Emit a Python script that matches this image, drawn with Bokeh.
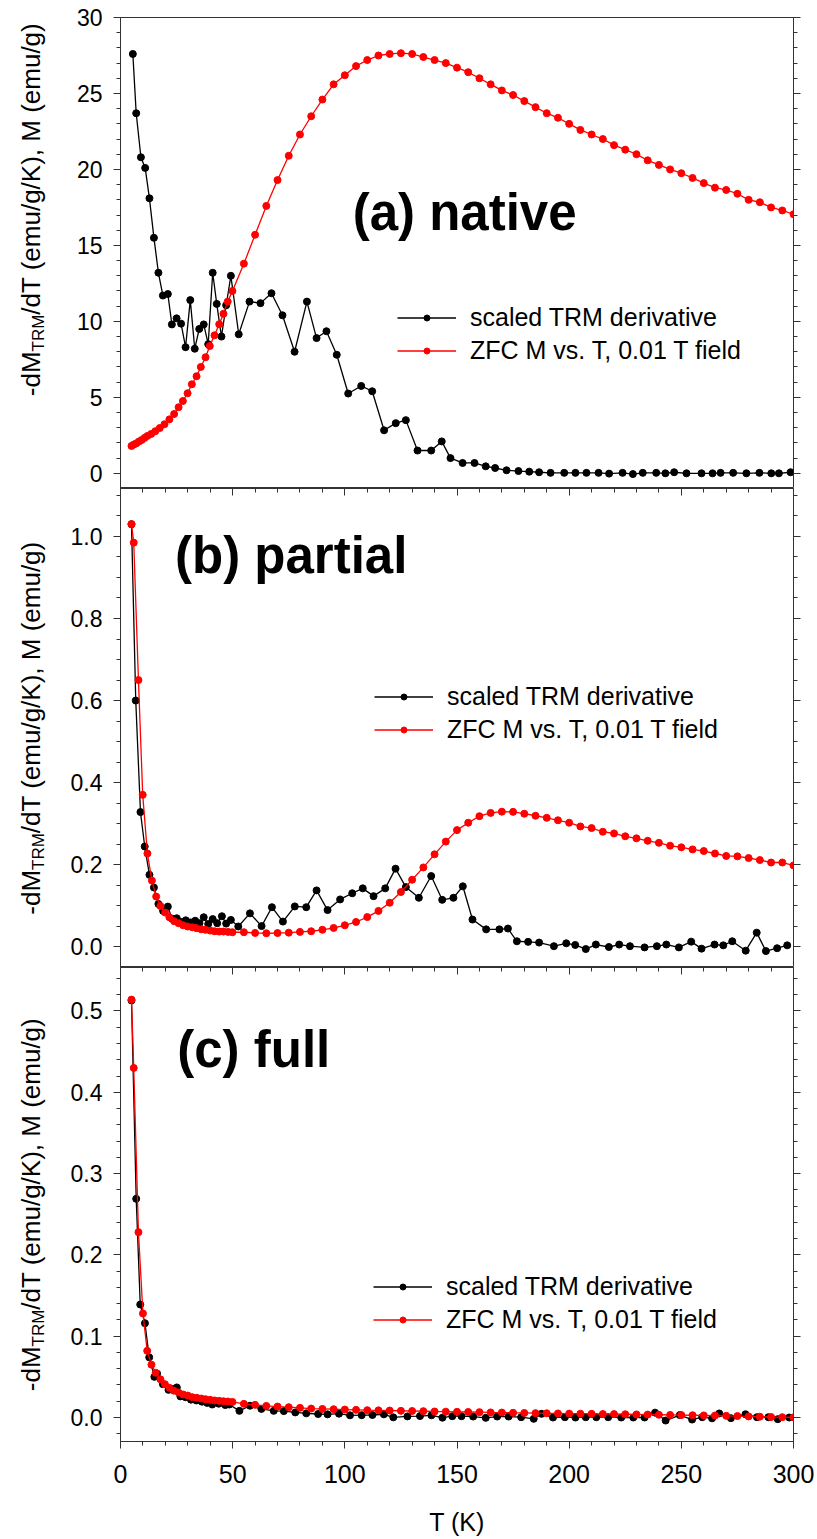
import math
from bokeh.plotting import figure
from bokeh.models import (Range1d, LinearAxis, SingleIntervalTicker, PrintfTickFormatter,
                          Label, Legend, LegendItem, CustomLabelingPolicy)
from bokeh.layouts import column, row
from bokeh.core.properties import value
from bokeh.embed import file_html
from bokeh.resources import INLINE

# ---------------- data ----------------
# panel (a) native
Ta_trm = [5.5, 7.0, 9.1, 11.0, 12.9, 14.9, 16.9, 18.9, 21.1, 22.9, 25.0, 27.0, 29.0, 31.1, 33.1,
          35.1, 37.1, 39.1, 41.1, 42.9, 45.0, 47.1, 49.2, 52.7, 57.5, 62.4, 67.3, 72.2, 77.6, 83.1,
          87.4, 91.8, 96.4, 101.5, 107.3, 112.2, 117.5, 122.7, 127.2, 132.4, 138.5, 143.2, 147.1,
          152.5, 157.8, 162.8, 167.0, 172.1, 177.4, 182.2, 186.6, 191.7, 197.8, 202.8, 207.7, 213.1,
          217.8, 223.8, 228.4, 232.8, 238.8, 242.9, 246.8, 252.3, 259.0, 263.9, 267.5, 273.1, 279.0,
          284.8, 290.1, 293.5, 298.7]
Ya_trm = [27.6, 23.7, 20.8, 20.1, 18.1, 15.5, 13.2, 11.7, 11.8, 9.8, 10.2, 9.85, 8.3, 11.4, 8.2,
          9.5, 9.8, 8.5, 13.2, 11.15, 9.0, 11.06, 13.0, 9.15, 11.3, 11.2, 11.85, 10.4, 8.0, 11.3,
          8.9, 9.35, 7.8, 5.25, 5.75, 5.4, 2.83, 3.3, 3.5, 1.5, 1.5, 2.1, 1.0,
          0.68, 0.68, 0.46, 0.35, 0.2, 0.15, 0.11, 0.07, 0.03, 0.03, 0.03, 0.03, 0.03,
          -0.02, 0.03, -0.05, 0.03, 0.03, 0.0, 0.07, 0.0, 0.0, 0.0, 0.03, 0.03, 0.0,
          0.03, 0.0, 0.0, 0.07]
Ta_zfc = [4.9, 5.9, 7.0, 8.2, 9.4, 10.7, 12.0, 13.7, 15.5, 17.5, 19.6, 21.8, 23.9, 25.9, 27.8, 29.9,
          31.8, 33.9, 35.8, 37.9, 39.8, 41.9, 44.0, 45.9, 47.8, 49.9,
          55, 60, 65, 70, 75, 80, 85, 90, 95, 100, 105, 110, 115, 120, 125, 130, 135, 140, 145, 150,
          155, 160, 165, 170, 175, 180, 185, 190, 195, 200, 205, 210, 215, 220, 225, 230, 235, 240,
          245, 250, 255, 260, 265, 270, 275, 280, 285, 290, 295, 300]
Ya_zfc = [1.80, 1.89, 1.97, 2.09, 2.19, 2.33, 2.46, 2.59, 2.77, 2.98, 3.23, 3.55, 3.9, 4.35, 4.76, 5.27,
          5.86, 6.39, 7.0, 7.64, 8.38, 9.08, 9.81, 10.5, 11.3, 12.0,
          13.8, 15.7, 17.6, 19.3, 20.9, 22.3, 23.5, 24.6, 25.6, 26.2, 26.8, 27.2, 27.5, 27.6, 27.65,
          27.6, 27.4, 27.2, 27.0, 26.7, 26.4, 26.0, 25.6, 25.2, 24.9, 24.5, 24.1, 23.7, 23.4, 23.0,
          22.6, 22.3, 22.0, 21.6, 21.3, 21.0, 20.6, 20.3, 20.0, 19.75, 19.44, 19.1, 18.8, 18.65,
          18.4, 18.0, 17.84, 17.5, 17.3, 17.05]

# panel (b) partial
Tb_trm = [4.9, 6.8, 8.9, 10.8, 12.9, 14.9, 16.9, 19.0, 21.1, 23.0, 25.1, 27.2, 29.1, 31.2, 33.3,
          35.2, 37.1, 39.1, 41.1, 43.1, 45.2, 47.1, 49.2, 52.5, 57.7, 62.9, 67.5, 72.4, 77.7, 82.8,
          87.4, 92.3, 97.9, 103.3, 108.0, 112.8, 118.0, 122.6, 127.2, 133.0, 138.5, 143.4, 148.4,
          152.6, 156.9, 163.0, 168.9, 172.7, 176.7, 181.7, 186.6, 193.2, 198.7, 202.7, 207.4, 211.9,
          217.7, 222.3, 227.1, 233.6, 239.1, 243.3, 248.9, 254.4, 259.0, 264.8, 268.7, 272.7, 278.7,
          283.6, 287.7, 292.7, 297.2]
Yb_trm = [1.03, 0.60, 0.328, 0.244, 0.175, 0.144, 0.104, 0.087, 0.0975, 0.068, 0.069, 0.060, 0.064,
          0.059, 0.063, 0.057, 0.0715, 0.055, 0.067, 0.057, 0.074, 0.056, 0.065, 0.049, 0.081, 0.050,
          0.096, 0.061, 0.098, 0.096, 0.137, 0.089, 0.115, 0.130, 0.142, 0.123, 0.142, 0.19, 0.145,
          0.119, 0.172, 0.114, 0.119, 0.147, 0.066, 0.042, 0.042, 0.044, 0.013, 0.0115, 0.0098, 0.001,
          0.008, 0.004, -0.006, 0.005, -0.001, 0.005, 0.001, -0.002, 0.001, 0.005, -0.002, 0.012,
          -0.005, 0.005, 0.003, 0.013, -0.010, 0.034, -0.011, -0.004, 0.003]
Tb_zfc = [4.9, 5.9, 8.0, 9.9, 12.0, 14.0, 15.9, 17.8, 19.9, 21.8, 23.9, 25.9, 27.9, 29.9, 32.0, 33.9,
          36.0, 37.9, 40.0, 41.9, 44.0, 45.9, 48.0, 49.9,
          55, 60, 65, 70, 75, 80, 85, 90, 95, 100, 105, 110, 115, 120, 125, 130, 135, 140, 145, 150,
          155, 160, 165, 170, 175, 180, 185, 190, 195, 200, 205, 210, 215, 220, 225, 230, 235, 240,
          245, 250, 255, 260, 265, 270, 275, 280, 285, 290, 295, 300]
Yb_zfc = [1.030, 0.985, 0.650, 0.370, 0.227, 0.161, 0.122, 0.099, 0.083, 0.0715, 0.062, 0.057, 0.052,
          0.049, 0.047, 0.045, 0.042, 0.041, 0.039, 0.0374, 0.0366, 0.0366, 0.0358, 0.035,
          0.035, 0.0333, 0.0325, 0.033, 0.034, 0.0358, 0.0374, 0.041, 0.0455, 0.052, 0.060, 0.072,
          0.087, 0.107, 0.133, 0.163, 0.193, 0.225, 0.256, 0.284, 0.302, 0.318, 0.326, 0.329, 0.3285,
          0.324, 0.319, 0.314, 0.308, 0.302, 0.293, 0.289, 0.280, 0.276, 0.269, 0.264, 0.258, 0.253,
          0.246, 0.242, 0.237, 0.233, 0.227, 0.221, 0.220, 0.216, 0.211, 0.205, 0.205, 0.198]

# panel (c) full
Tc_trm = [4.9, 7.0, 8.8, 10.9, 12.8, 15.1, 16.3, 18.9, 21.4, 23.3, 25.1, 26.7, 29.0, 31.4, 33.8,
          36.3, 38.6, 40.9, 43.8, 46.7, 48.5, 53.0, 57.7, 62.8, 68.3, 72.8, 77.9, 82.8, 88.1, 92.3,
          97.4, 102.3, 107.5, 112.3, 117.4, 121.6, 127.9, 133.5, 138.6, 143.5, 147.9, 152.0, 157.2,
          162.8, 167.9, 173.0, 178.6, 184.2, 187.7, 192.8, 198.1, 202.8, 207.4, 212.1, 217.4, 223.2,
          228.6, 233.6, 238.3, 243.0, 249.3, 254.8, 259.3, 263.7, 266.9, 272.1, 278.6, 283.7, 288.8,
          293.0, 298.1]
Yc_trm = [0.513, 0.269, 0.139, 0.116, 0.074, 0.050, 0.054, 0.041, 0.034, 0.035, 0.037, 0.026, 0.025,
          0.022, 0.021, 0.0195, 0.018, 0.016, 0.017, 0.0153, 0.016, 0.0082, 0.0145, 0.0106, 0.0082,
          0.0079, 0.0063, 0.0051, 0.0043, 0.0039, 0.0047, 0.0027, 0.0029, 0.0031, 0.0039, 0.0002,
          0.0014, 0.0018, 0.0027, -0.0002, 0.0016, 0.0016, 0.0012, -0.0004, 0.0012, 0.0012, 0.0004,
          -0.0016, 0.0045, 0.0, 0.0004, 0.0, 0.0004, 0.0004, 0.0004, 0.0, 0.0, 0.0, 0.006, -0.0037,
          0.003, -0.0025, 0.0004, -0.001, 0.005, -0.0008, 0.004, 0.0004, 0.0004, -0.002, 0.0]
Tc_zfc = [4.9, 5.9, 8.0, 10.0, 11.9, 13.8, 15.7, 17.8, 19.8, 21.8, 23.8, 25.9, 28.0, 30.0, 32.0, 34.0,
          36.0, 37.9, 40.0, 41.9, 44.0, 45.9, 47.8, 49.9,
          55, 60, 65, 70, 75, 80, 85, 90, 95, 100, 105, 110, 115, 120, 125, 130, 135, 140, 145, 150,
          155, 160, 165, 170, 175, 180, 185, 190, 195, 200, 205, 210, 215, 220, 225, 230, 235, 240,
          245, 250, 255, 260, 265, 270, 275, 280, 285, 290, 295, 300]
Yc_zfc = [0.514, 0.430, 0.228, 0.128, 0.082, 0.065, 0.055, 0.047, 0.041, 0.0365, 0.033, 0.0307,
          0.0283, 0.027, 0.025, 0.0242, 0.0233, 0.0225, 0.0217, 0.021, 0.0205, 0.020, 0.0197, 0.0192,
          0.0168, 0.0156, 0.0143, 0.0135, 0.0127, 0.0119, 0.011, 0.0106, 0.0102, 0.0098, 0.0094,
          0.009, 0.0088, 0.0086, 0.0082, 0.008, 0.0078, 0.0074, 0.0072, 0.007,
          0.0068, 0.0066, 0.0063, 0.0061, 0.0058, 0.0056, 0.0054, 0.0052, 0.005, 0.0048, 0.0047,
          0.0045, 0.0043, 0.0042, 0.004, 0.0038, 0.0036, 0.0034, 0.0032, 0.003, 0.0028, 0.0026,
          0.0024, 0.0021, 0.0018, 0.0014, 0.001, 0.0006, 0.0004, 0.0002]

x_ticks_major = 50
legend_labels = ["scaled TRM derivative", "ZFC M vs. T, 0.01 T field"]
panel_titles = ["(a) native", "(b) partial", "(c) full"]
x_label = "T (K)"
ylab_parts = ["-dM", "TRM", "/dT (emu/g/K), M (emu/g)"]

# ---------------- styling / geometry ----------------
FONT = "Liberation Sans"
FRAME_W = 673
LAB_W = 60                # strip holding the rotated y labels
LEFT, RIGHT = 120, 24     # frame left edge on the page, right border
TOP = 17
FRAME_H = [471, 479, 474]
BOTTOM = 98
PAGE_H = TOP + sum(FRAME_H) + BOTTOM
AX = "#333333"
TICK_FS = "23px"
LAB_F = 26.0
SUB_F = 17.0
MID = 0.3465              # em-box middle above the baseline (Liberation Sans)

NO_LABELS = """
const all = Array.from(indices.ones());
for (const i of all) { indices.unset(i); }
return indices;
"""


def text_w(s, f):
    # Liberation Sans advance widths (em)
    w = {'-': .333, 'd': .556, 'M': .833, 'T': .611, 'R': .722, '/': .278, ' ': .278, '(': .333,
         ')': .333, 'e': .556, 'm': .833, 'u': .556, 'g': .556, 'K': .667, ',': .278}
    return sum(w.get(c, .556) for c in s) * f


def tick_only_axis(interval, nminor, t_in, t_out):
    return LinearAxis(ticker=SingleIntervalTicker(interval=interval, num_minor_ticks=nminor),
                      major_tick_out=t_out[0], major_tick_in=t_in[0],
                      minor_tick_out=t_out[1], minor_tick_in=t_in[1],
                      axis_line_color=None, major_tick_line_color=AX, minor_tick_line_color=AX,
                      major_label_text_font_size="0px", major_label_standoff=0,
                      major_label_policy=CustomLabelingPolicy(code=NO_LABELS))


def make_panel(frame_h, yr, interval, nminor, fmt, top_b, bot_b, top_ticks, bottom_axis):
    p = figure(frame_width=FRAME_W, frame_height=frame_h,
               x_range=Range1d(0, 300), y_range=Range1d(*yr),
               output_backend="svg", toolbar_location=None,
               x_axis_location=None, y_axis_location=None,
               min_border_left=LEFT - LAB_W, min_border_right=RIGHT,
               min_border_top=top_b, min_border_bottom=bot_b,
               outline_line_color=AX, outline_line_width=1,
               background_fill_color="white", border_fill_color="white")
    p.grid.grid_line_color = None
    ly = LinearAxis(ticker=SingleIntervalTicker(interval=interval, num_minor_ticks=nminor),
                    formatter=PrintfTickFormatter(format=fmt),
                    major_tick_out=7, major_tick_in=0, minor_tick_out=4, minor_tick_in=0,
                    axis_line_color=AX, major_tick_line_color=AX, minor_tick_line_color=AX,
                    major_label_text_font=FONT, major_label_text_font_size=TICK_FS,
                    major_label_text_color="black", major_label_standoff=11)
    p.add_layout(ly, "left")
    p.add_layout(tick_only_axis(interval, nminor, (0, 0), (7, 4)), "right")
    if top_ticks:
        p.add_layout(tick_only_axis(x_ticks_major, 5, (7, 4), (0, 0)), "above")
    if bottom_axis:
        bx = LinearAxis(ticker=SingleIntervalTicker(interval=x_ticks_major, num_minor_ticks=5),
                        major_tick_out=7, major_tick_in=0, minor_tick_out=4, minor_tick_in=0,
                        axis_line_color=AX, major_tick_line_color=AX, minor_tick_line_color=AX,
                        major_label_text_font=FONT, major_label_text_font_size="25px",
                        major_label_text_color="black", major_label_standoff=16,
                        axis_label=x_label, axis_label_text_font=FONT,
                        axis_label_text_font_size="25px", axis_label_text_font_style="normal",
                        axis_label_text_color="black", axis_label_standoff=22)
        p.add_layout(bx, "below")
    return p


def add_series(p, T1, Y1, T2, Y2, legend_xy):
    l1 = p.line(T1, Y1, line_color="black", line_width=1.3)
    s1 = p.scatter(T1, Y1, size=7, fill_color="black", line_color="black")
    l2 = p.line(T2, Y2, line_color="red", line_width=1.3)
    s2 = p.scatter(T2, Y2, size=7, fill_color="red", line_color="red")
    leg = Legend(items=[LegendItem(label=legend_labels[0], renderers=[l1, s1]),
                        LegendItem(label=legend_labels[1], renderers=[l2, s2])],
                 location=legend_xy, orientation="vertical",
                 label_text_font=FONT, label_text_font_size="25px", label_text_color="black",
                 glyph_width=59, glyph_height=15, label_standoff=14, spacing=4,
                 padding=0, margin=0, border_line_color=None, background_fill_alpha=0)
    p.add_layout(leg)


def add_title(p, text, x, y):
    p.add_layout(Label(x=x, y=y, text=text, text_font=FONT, text_font_style="bold",
                       text_font_size="51px", text_color="black",
                       text_align="left", text_baseline="middle"))


# ---- y-label strip (a narrow figure left of the panels) ----
lab = figure(frame_width=LAB_W, frame_height=PAGE_H,
             x_range=Range1d(0, LAB_W), y_range=Range1d(0, PAGE_H),
             output_backend="svg", toolbar_location=None,
             x_axis_location=None, y_axis_location=None,
             min_border=0, outline_line_color=None,
             background_fill_color="white", border_fill_color="white")
lab.grid.grid_line_color = None


def add_ylabel(center_py):
    # center_py: label centre, page pixels from the top
    w0 = text_w(ylab_parts[0], LAB_F)
    w1 = text_w(ylab_parts[1], SUB_F)
    w2 = text_w(ylab_parts[2], LAB_F)
    start = center_py + (w0 + w1 + w2) / 2.0      # text runs upward from here
    base_main = 40 - MID * LAB_F
    base_sub = 44 - MID * SUB_F
    lab.text(x=[base_main, base_main], y=[PAGE_H - start, PAGE_H - (start - w0 - w1)],
             text=[ylab_parts[0], ylab_parts[2]], angle=math.pi / 2,
             text_font=value(FONT), text_font_size=value(f"{LAB_F:.0f}px"),
             text_color="black", text_align="left", text_baseline="middle")
    lab.text(x=[base_sub], y=[PAGE_H - (start - w0)], text=[ylab_parts[1]], angle=math.pi / 2,
             text_font=value(FONT), text_font_size=value(f"{SUB_F:.0f}px"),
             text_color="black", text_align="left", text_baseline="middle")


# panel a
yr_a = (-1.0, 30.0)
pa = make_panel(FRAME_H[0], yr_a, 5, 5, "%d", TOP, 0, False, False)
add_series(pa, Ta_trm, Ya_trm, Ta_zfc, Ya_zfc, (277, 123))
add_title(pa, panel_titles[0], 103.5, 17.16)
add_ylabel(TOP + FRAME_H[0] - 279)

# panel b
yr_b = (-0.051, 1.117)
pb = make_panel(FRAME_H[1], yr_b, 0.2, 4, "%.1f", 0, 0, True, False)
add_series(pb, Tb_trm, Yb_trm, Tb_zfc, Yb_zfc, (254, 223))
add_title(pb, panel_titles[1], 24.3, 0.9537)
add_ylabel(TOP + FRAME_H[0] + FRAME_H[1] / 2)

# panel c
yr_c = (-0.0295, 0.5535)
pc = make_panel(FRAME_H[2], yr_c, 0.1, 5, "%.1f", 0, BOTTOM, True, True)
add_series(pc, Tc_trm, Yc_trm, Tc_zfc, Yc_zfc, (253, 107))
add_title(pc, panel_titles[2], 25.3, 0.4530)
add_ylabel(TOP + FRAME_H[0] + FRAME_H[1] + FRAME_H[2] / 2)

layout = row(lab, column(pa, pb, pc, spacing=0), spacing=0)
open("out.html", "w").write(file_html(layout, INLINE))
